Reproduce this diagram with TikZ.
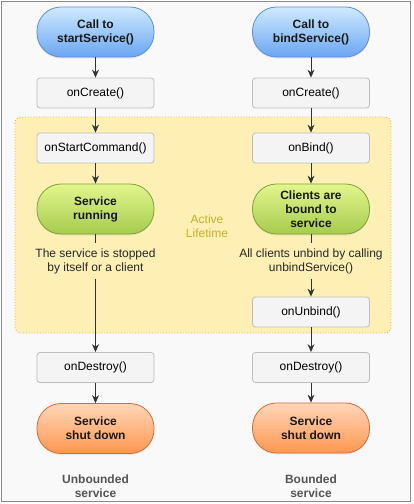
\documentclass[tikz,border=0pt]{standalone}
\usepackage{fontspec}
\setmainfont{Liberation Sans}
\usetikzlibrary{arrows.meta,shadows}
\definecolor{frame}{HTML}{8A8A8A}
\definecolor{bgc}{HTML}{F9F9F9}
\definecolor{zone}{HTML}{FEF0B4}
\definecolor{zoneedge}{HTML}{E6A24A}
\definecolor{activec}{HTML}{C9AE2C}
\definecolor{bluetop}{HTML}{CFEAFF}
\definecolor{bluebot}{HTML}{6AA6F2}
\definecolor{blueedge}{HTML}{5B8EE0}
\definecolor{greentop}{HTML}{E2F68C}
\definecolor{greenbot}{HTML}{A6CB4E}
\definecolor{greenedge}{HTML}{7EA23A}
\definecolor{orangetop}{HTML}{FFD6B8}
\definecolor{orangebot}{HTML}{FF9750}
\definecolor{orangeedge}{HTML}{D06E36}
\definecolor{boxfill}{HTML}{F4F4F4}
\definecolor{boxedge}{HTML}{BDBDBD}
\definecolor{arrowc}{HTML}{333333}
\definecolor{labelc}{HTML}{555555}
\tikzset{
  basefont/.style={font=\fontsize{12}{14}\selectfont},
  pill/.style={basefont, font=\fontsize{12}{14}\selectfont\bfseries, align=center,
    minimum width=117pt, minimum height=50pt, inner sep=0pt, rounded corners=24pt,
    line width=0.8pt, text=black!90,
    drop shadow={opacity=0.15, shadow xshift=0pt, shadow yshift=-1.5pt}},
  bluepill/.style={pill, draw=blueedge, top color=bluetop, bottom color=bluebot},
  greenpill/.style={pill, draw=greenedge, top color=greentop, bottom color=greenbot},
  orangepill/.style={pill, draw=orangeedge, top color=orangetop, bottom color=orangebot},
  cbbox/.style={basefont, draw=boxedge, fill=boxfill, line width=0.8pt, rounded corners=3pt,
    minimum width=117pt, minimum height=30pt, inner sep=0pt},
  desc/.style={basefont, align=center, inner xsep=0pt, inner ysep=5pt, text=black!85},
  foot/.style={font=\fontsize{12}{14}\selectfont\bfseries, align=center, text=labelc},
  conn/.style={draw=arrowc, line width=0.9pt},
  arr/.style={conn, -{Stealth[length=8pt,width=7pt]}}
}
\begin{document}
\begin{tikzpicture}[x=1pt,y=-1pt]
\useasboundingbox (0,0) rectangle (414,504);
\fill[white] (0,0) rectangle (414,504);
\draw[frame, fill=bgc, line width=1pt] (1,1) rectangle (410.5,501.5);
% active lifetime zone
\draw[zoneedge, fill=zone, dotted, line width=0.8pt, rounded corners=6pt] (15,117) rectangle (391,333);
\node[text=activec, basefont, align=center] (act) at (207,226) {Active\\Lifetime};
% left column
\node[bluepill] (start) at (95.5,32) {Call to\\startService()};
\node[cbbox] (createL) at (95.5,93) {onCreate()};
\node[cbbox] (cmd) at (95.5,148) {onStartCommand()};
\node[greenpill] (run) at (95.5,209) {Service\\running};
\node[desc] (stopL) at (95.5,261) {The service is stopped\\by itself or a client};
\node[cbbox] (destL) at (95.5,367.5) {onDestroy()};
\node[orangepill] (downL) at (95.5,428.5) {Service\\shut down};
\node[foot] (ub) at (95.5,486) {Unbounded\\service};
% right column
\node[bluepill] (bind) at (311,32) {Call to\\bindService()};
\node[cbbox] (createR) at (311,93) {onCreate()};
\node[cbbox] (onbind) at (311,148) {onBind()};
\node[greenpill] (bound) at (311,209) {Clients are\\bound to\\service};
\node[desc] (stopR) at (311,261) {All clients unbind by calling\\unbindService()};
\node[cbbox] (unbind) at (311,312) {onUnbind()};
\node[cbbox] (destR) at (311,367.5) {onDestroy()};
\node[orangepill] (downR) at (311,428) {Service\\shut down};
\node[foot] (bs) at (311,486) {Bounded\\service};
% connectors left
\draw[arr] (start) -- (createL);
\draw[arr] (createL) -- (cmd);
\draw[arr] (cmd) -- (run);
\draw[conn] (run) -- (stopL);
\draw[arr] (stopL) -- (destL);
\draw[arr] (destL) -- (downL);
% connectors right
\draw[arr] (bind) -- (createR);
\draw[arr] (createR) -- (onbind);
\draw[arr] (onbind) -- (bound);
\draw[conn] (bound) -- (stopR);
\draw[arr] (stopR) -- (unbind);
\draw[arr] (unbind) -- (destR);
\draw[arr] (destR) -- (downR);
\end{tikzpicture}
\end{document}
